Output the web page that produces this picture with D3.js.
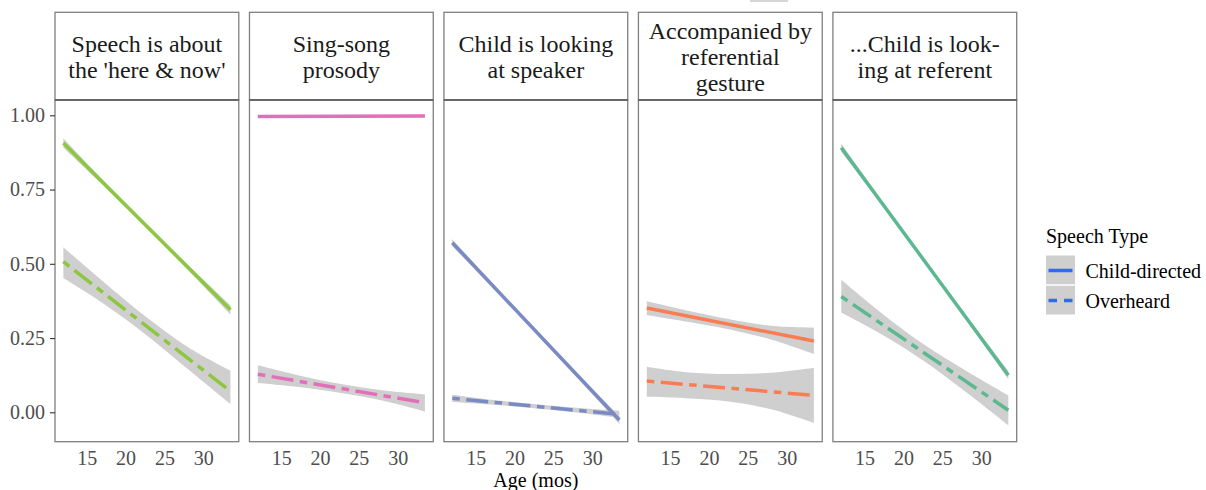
<!DOCTYPE html>
<html>
<head>
<meta charset="utf-8">
<script src="https://cdn.jsdelivr.net/npm/d3@7"></script>
<style>
  html, body { margin: 0; padding: 0; background: #fff; }
  svg, svg text { font-family: "Liberation Serif", "Times New Roman", serif !important; }
</style>
</head>
<body>
<svg id="chart" width="1206" height="490"></svg>
<script>
// ---------- data ----------
const facets = ["here_now", "singsong", "look_speaker", "gesture", "look_referent"];
const facetLabels = [
  ["Speech is about", "the 'here & now'"],
  ["Sing-song", "prosody"],
  ["Child is looking", "at speaker"],
  ["Accompanied by", "referential", "gesture"],
  ["...Child is look-", "ing at referent"]
];
const facetColors = ["#8dc63f", "#e26fb9", "#7a8ac2", "#f97c52", "#5cb891"];
const speechTypes = ["Child-directed", "Overheard"];
const ageRange = [12, 33.5];
const ribbonAges = [12, 17, 22.5, 28, 33.5];

// fitted line end points (at ageRange[0], ageRange[1])
const cdStart = [0.907, 0.996, 0.571, 0.351, 0.891];
const cdEnd   = [0.345, 0.998, -0.026, 0.240, 0.125];
const ohStart = [0.507, 0.128, 0.047, 0.105, 0.390];
const ohEnd   = [0.071, 0.032, -0.007, 0.057, 0.007];

// confidence ribbons read at ribbonAges
const cdLower = [
  [0.891, 0.767, 0.626, 0.480, 0.329],
  [0.992, 0.994, 0.995, 0.995, 0.994],
  [0.559, 0.424, 0.272, 0.119, -0.039],
  [0.328, 0.306, 0.280, 0.245, 0.196],
  [0.877, 0.705, 0.510, 0.313, 0.111]
];
const cdUpper = [
  [0.923, 0.785, 0.640, 0.498, 0.361],
  [1.000, 0.999, 0.999, 1.000, 1.002],
  [0.583, 0.440, 0.286, 0.135, -0.013],
  [0.374, 0.344, 0.314, 0.291, 0.285],
  [0.905, 0.721, 0.524, 0.329, 0.139]
];
const ohLower = [
  [0.452, 0.369, 0.264, 0.146, 0.028],
  [0.099, 0.086, 0.066, 0.040, 0.003],
  [0.035, 0.026, 0.014, -0.001, -0.019],
  [0.052, 0.047, 0.036, 0.010, -0.036],
  [0.336, 0.265, 0.175, 0.069, -0.044]
];
const ohUpper = [
  [0.556, 0.443, 0.324, 0.220, 0.140],
  [0.158, 0.126, 0.096, 0.074, 0.060],
  [0.059, 0.042, 0.028, 0.015, 0.005],
  [0.153, 0.135, 0.129, 0.133, 0.150],
  [0.446, 0.338, 0.231, 0.141, 0.057]
];

const yTicks = [0, 0.25, 0.5, 0.75, 1.0];
const yTickLabels = ["0.00", "0.25", "0.50", "0.75", "1.00"];
const xTicks = [15, 20, 25, 30];
const xTitle = "Age (mos)";
const legendTitle = "Speech Type";

// ---------- layout ----------
const FONT = "'Liberation Serif', 'Times New Roman', serif";
const svg = d3.select("#chart");
const stripTop = 12.3, panelTop = 100, panelBottom = 441.7;
const fx = d3.scaleBand().domain(facets).range([55, 1016.7]).paddingInner(0.055).paddingOuter(0);
const bw = fx.bandwidth();
const span = ageRange[1] - ageRange[0];
const xDomain = [ageRange[0] - 0.05 * span, ageRange[1] + 0.05 * span];
const y = d3.scaleLinear().domain([-0.099, 1.0515]).range([panelBottom, panelTop]);

const ribbonFill = "#cfcfcf";
const lineW = 3.5;
const dashOH = "7.5,6.5,22,6.5";

// faint artifact at top
svg.append("rect").attr("x", 750).attr("y", 0).attr("width", 38).attr("height", 2).attr("fill", "#d6d6d6");

const defs = svg.append("defs");

facets.forEach((f, i) => {
  const x0 = fx(f);
  const x = d3.scaleLinear().domain(xDomain).range([x0, x0 + bw]);
  const g = svg.append("g");
  const clipId = "clip" + i;
  defs.append("clipPath").attr("id", clipId).append("rect")
    .attr("x", x0).attr("y", panelTop).attr("width", bw).attr("height", panelBottom - panelTop);

  // strip
  g.append("rect").attr("x", x0).attr("y", stripTop).attr("width", bw).attr("height", panelTop - stripTop)
    .attr("fill", "#fff").attr("stroke", "#7f7f7f").attr("stroke-width", 1.3);
  const lines = facetLabels[i];
  const cy = (stripTop + panelTop) / 2;
  lines.forEach((t, k) => {
    g.append("text")
      .attr("x", x0 + bw / 2)
      .attr("y", cy + (k - (lines.length - 1) / 2) * 26)
      .attr("dy", "0.35em")
      .attr("text-anchor", "middle")
      .attr("font-size", 24)
      .style("font-family", FONT)
      .attr("fill", "#1a1a1a")
      .text(t);
  });

  // panel
  g.append("rect").attr("x", x0).attr("y", panelTop).attr("width", bw).attr("height", panelBottom - panelTop)
    .attr("fill", "#fff").attr("stroke", "#7f7f7f").attr("stroke-width", 1.3);

  const plot = g.append("g").attr("clip-path", `url(#${clipId})`);
  const area = d3.area().x(d => x(d.age)).y0(d => y(d.lo)).y1(d => y(d.hi)).curve(d3.curveCatmullRom);
  const line = d3.line().x(d => x(d.age)).y(d => y(d.v));

  const rib = (lo, hi) => ribbonAges.map((a, k) => ({ age: a, lo: lo[k], hi: hi[k] }));
  plot.append("path").datum(rib(cdLower[i], cdUpper[i])).attr("d", area).attr("fill", ribbonFill);
  plot.append("path").datum(rib(ohLower[i], ohUpper[i])).attr("d", area).attr("fill", ribbonFill);

  plot.append("path")
    .datum([{ age: ageRange[0], v: cdStart[i] }, { age: ageRange[1], v: cdEnd[i] }])
    .attr("d", line).attr("fill", "none").attr("stroke", facetColors[i]).attr("stroke-width", lineW);
  plot.append("path")
    .datum([{ age: ageRange[0], v: ohStart[i] }, { age: ageRange[1], v: ohEnd[i] }])
    .attr("d", line).attr("fill", "none").attr("stroke", facetColors[i]).attr("stroke-width", lineW)
    .attr("stroke-dasharray", dashOH);

  // strip / panel separator
  g.append("line").attr("x1", x0).attr("x2", x0 + bw).attr("y1", panelTop).attr("y2", panelTop)
    .attr("stroke", "#555").attr("stroke-width", 1.5);

  // x axis labels (no tick marks)
  const xa = g.append("g").attr("transform", `translate(0,${panelBottom})`)
    .call(d3.axisBottom(x).tickValues(xTicks).tickSize(0).tickPadding(0).tickFormat(d3.format("d")));
  xa.attr("font-family", null).attr("font-size", null);
  xa.select(".domain").remove();
  xa.selectAll("text").attr("y", 23).attr("dy", 0).attr("font-size", 20)
    .style("font-family", FONT).attr("fill", "#4d4d4d");

  // y axis on first panel
  if (i === 0) {
    const ya = svg.append("g").attr("transform", `translate(${x0},0)`)
      .call(d3.axisLeft(y).tickValues(yTicks).tickSize(5).tickPadding(5)
        .tickFormat((d, k) => yTickLabels[k]));
    ya.attr("font-family", null).attr("font-size", null);
    ya.select(".domain").remove();
    ya.selectAll("line").attr("stroke", "#333").attr("stroke-width", 1.1);
    ya.selectAll("text").attr("font-size", 20)
      .style("font-family", FONT).attr("fill", "#4d4d4d");
  }
});

// x title
svg.append("text").attr("x", (55 + 1016.7) / 2).attr("y", 487).attr("text-anchor", "middle")
  .attr("font-size", 20).style("font-family", FONT).attr("fill", "#000").text(xTitle);

// legend
const lg = svg.append("g");
lg.append("text").attr("x", 1046).attr("y", 243).attr("font-size", 20).style("font-family", FONT)
  .attr("fill", "#000").text(legendTitle);
speechTypes.forEach((s, k) => {
  const ky = 255.5 + k * 30;
  lg.append("rect").attr("x", 1046).attr("y", ky).attr("width", 29).attr("height", 29).attr("fill", ribbonFill);
  lg.append("line").attr("x1", 1048.5).attr("x2", 1072.5).attr("y1", ky + 15).attr("y2", ky + 15)
    .attr("stroke", "#3366ff").attr("stroke-width", lineW)
    .attr("stroke-dasharray", k === 1 ? "8.5,7" : null);
  lg.append("text").attr("x", 1085.5).attr("y", ky + 15).attr("dy", "0.35em").attr("font-size", 20)
    .style("font-family", FONT).attr("fill", "#000").text(s);
});
lg.append("line").attr("x1", 1046).attr("x2", 1075).attr("y1", 285).attr("y2", 285).attr("stroke", "#fff").attr("stroke-width", 1);
</script>
</body>
</html>
